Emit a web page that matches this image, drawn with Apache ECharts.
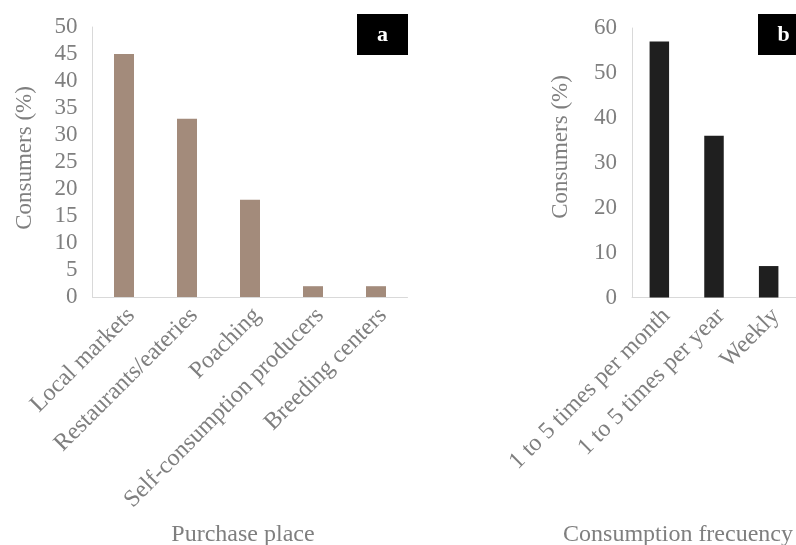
<!DOCTYPE html>
<html>
<head>
<meta charset="utf-8">
<script src="https://cdn.jsdelivr.net/npm/echarts@6/dist/echarts.min.js"></script>
<style>
  html, body { margin: 0; padding: 0; background: #ffffff; }
  #chart { width: 796px; height: 545px; }
</style>
</head>
<body>
<div id="chart"></div>
<script>
// Panel a: where consumers buy
const placeCategories = ['Local markets', 'Restaurants/eateries', 'Poaching', 'Self-consumption producers', 'Breeding centers'];
const placeValues = [45, 33, 18, 2, 2];
const placeTicks = { min: 0, max: 50, interval: 5 };

// Panel b: how often they consume
const frequencyCategories = ['1 to 5 times per month', '1 to 5 times per year', 'Weekly'];
const frequencyValues = [57, 36, 7];
const frequencyTicks = { min: 0, max: 60, interval: 10 };

const FONT = '"Liberation Serif", "Times New Roman", serif';
const TEXT_COLOR = '#7f7f7f';
const AXIS_COLOR = '#d9d9d9';

const chart = echarts.init(document.getElementById('chart'), null, { renderer: 'canvas' });

function yAxisFor(gridIndex, ticks) {
  return {
    type: 'value',
    gridIndex: gridIndex,
    min: ticks.min,
    max: ticks.max,
    interval: ticks.interval,
    axisLine: { show: true, lineStyle: { color: AXIS_COLOR, width: 1 } },
    axisTick: { show: false },
    splitLine: { show: false },
    axisLabel: { color: TEXT_COLOR, fontFamily: FONT, fontSize: 23, margin: 15 }
  };
}

function xAxisFor(gridIndex, categories) {
  return {
    type: 'category',
    gridIndex: gridIndex,
    data: categories,
    axisLine: { show: true, lineStyle: { color: AXIS_COLOR, width: 1 } },
    axisTick: { show: false },
    axisLabel: {
      color: TEXT_COLOR, fontFamily: FONT, fontSize: 24, rotate: 45, interval: 0,
      margin: 22, padding: [0, -10, 0, 0]
    }
  };
}

function panelTag(letter, x) {
  return {
    type: 'group',
    left: x,
    top: 14,
    children: [
      { type: 'rect', shape: { x: 0, y: 0, width: 51, height: 41 }, style: { fill: '#000000' } },
      { type: 'text', x: 25.5, y: 21, style: { text: letter, fill: '#ffffff', font: 'bold 22px ' + FONT, textAlign: 'center', textVerticalAlign: 'middle' } }
    ]
  };
}

function axisTitle(text, x, y, vertical) {
  return {
    type: 'text',
    x: x,
    y: y,
    rotation: vertical ? Math.PI / 2 : 0,
    style: { text: text, fill: TEXT_COLOR, font: (vertical ? '23px ' : '24px ') + FONT, textAlign: 'center', textVerticalAlign: 'middle' }
  };
}

chart.setOption({
  animation: false,
  grid: [
    { left: 92.5, top: 27, width: 315, height: 270 },
    { left: 632, top: 28, width: 177, height: 269.5 }
  ],
  xAxis: [xAxisFor(0, placeCategories), xAxisFor(1, frequencyCategories)],
  yAxis: [yAxisFor(0, placeTicks), yAxisFor(1, frequencyTicks)],
  series: [
    { type: 'bar', xAxisIndex: 0, yAxisIndex: 0, data: placeValues, barWidth: 20, itemStyle: { color: '#a38b7b' } },
    { type: 'bar', xAxisIndex: 1, yAxisIndex: 1, data: frequencyValues, barWidth: 19.5, itemStyle: { color: '#1f1f1f' } }
  ],
  graphic: [
    axisTitle('Consumers (%)', 25, 158, true),
    axisTitle('Consumers (%)', 561, 147, true),
    axisTitle('Purchase place', 243, 535, false),
    axisTitle('Consumption frecuency', 678, 535, false),
    panelTag('a', 357),
    panelTag('b', 758)
  ]
});
</script>
</body>
</html>
